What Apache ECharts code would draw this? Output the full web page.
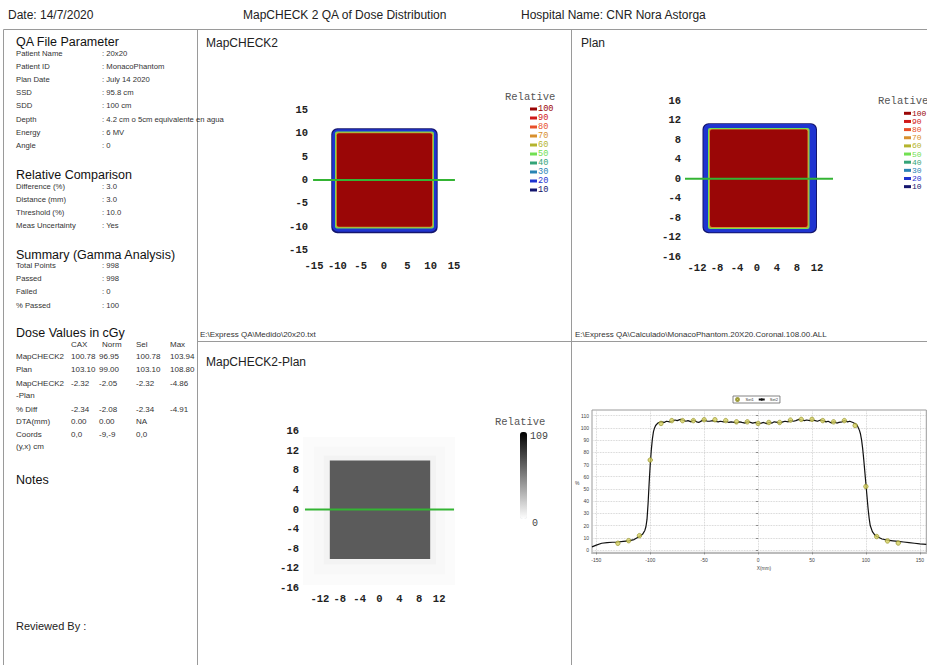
<!DOCTYPE html>
<html><head><meta charset="utf-8">
<script src="https://cdn.jsdelivr.net/npm/echarts@6/dist/echarts.min.js"></script>
<style>html,body{margin:0;padding:0;background:#fff}#c{width:927px;height:665px}</style>
</head><body><div id="c"></div>
<script>
// ---------------- data ----------------
const headerTexts = ['Date: 14/7/2020', 'MapCHECK 2 QA of Dose Distribution', 'Hospital Name: CNR Nora Astorga'];
const qaParams = [['Patient Name', ': 20x20'], ['Patient ID', ': MonacoPhantom'], ['Plan Date', ': July 14 2020'], ['SSD', ': 95.8 cm'], ['SDD', ': 100 cm'], ['Depth', ': 4.2 cm o 5cm equivalente en agua'], ['Energy', ': 6 MV'], ['Angle', ': 0']];
const relComparison = [['Difference (%)', ': 3.0'], ['Distance (mm)', ': 3.0'], ['Threshold (%)', ': 10.0'], ['Meas Uncertainty', ': Yes']];
const gammaSummary = [['Total Points', ': 998'], ['Passed', ': 998'], ['Failed', ': 0'], ['% Passed', ': 100']];
const doseHeader = ['CAX', 'Norm', 'Sel', 'Max'];
const doseRows = [
  ['MapCHECK2', '100.78', '96.95', '100.78', '103.94'],
  ['Plan', '103.10', '99.00', '103.10', '108.80'],
  ['MapCHECK2', '-2.32', '-2.05', '-2.32', '-4.86'],
  ['-Plan', '', '', '', ''],
  ['% Diff', '-2.34', '-2.08', '-2.34', '-4.91'],
  ['DTA(mm)', '0.00', '0.00', 'NA', ''],
  ['Coords', '0,0', '-9,-9', '0,0', ''],
  ['(y,x) cm', '', '', '', '']
];
const panelTitles = ['MapCHECK2', 'Plan', 'MapCHECK2-Plan'];
const filePaths = ['E:\\Express QA\\Medido\\20x20.txt', 'E:\\Express QA\\Calculado\\MonacoPhantom.20X20.Coronal.108.00.ALL'];

// dose levels (Relative legend)
const levels = [100, 90, 80, 70, 60, 50, 40, 30, 20, 10];
const levelColors = ['#9a0606', '#d01818', '#e8502a', '#d8902e', '#b4b42e', '#72e052', '#34a478', '#2a84b4', '#1f34d0', '#14166e'];

// map regions: [xmin, ymin, xmax, ymax, level]
const measuredRegions = [[-11.3, -11.4, 11.5, 11.1, 10], [-11.1, -11.1, 11.3, 10.9, 20], [-10.5, -10.4, 10.7, 10.4, 50], [-10.3, -10.2, 10.5, 10.2, 70], [-10.1, -10.0, 10.3, 10.0, 100]];
const planRegions = [[-10.9, -11.2, 12.0, 11.4, 10], [-10.7, -11.0, 11.8, 11.2, 20], [-9.8, -10.3, 10.5, 10.4, 50], [-9.6, -10.1, 10.3, 10.2, 70], [-9.4, -9.9, 10.1, 10.1, 100]];
const diffRegions = [[-15.4, -15.4, 15.2, 14.8, 1.5], [-13.2, -13.2, 13.2, 12.8, 3], [-11.2, -11.2, 11.4, 11.0, 5], [-10.0, -10.1, 10.2, 10.0, 70]];
const diffRange = [0, 109];

// profile line (y = 0 cm)
const measLine = [[-15.2, 0], [15.2, 0]];
const planLine = [[-14.4, 0], [15.2, 0]];
const diffLine = [[-15.0, 0], [15.0, 0]];

// profile data (Set2 line)
const set2X = [-154,-150,-145,-140,-135,-130,-125,-120,-115,-110,-107,-105,-104,-103,-102,-101,-100,-99,-98,-97,-96,-95,-93,-90,-87,-85,-82,-80,-77,-75,-72,-70,-67,-65,-62,-60,-57,-55,-52,-50,-47,-45,-42,-40,-37,-35,-32,-30,-27,-25,-22,-20,-17,-15,-12,-10,-7,-5,-2,0,3,5,8,10,13,15,18,20,23,25,28,30,33,35,38,40,43,45,48,50,53,55,58,60,63,65,68,70,73,75,78,80,83,85,88,90,92,94,95,96,97,98,99,100,101,102,103,104,106,108,110,115,120,125,130,135,140,145,150,156];
const set2Y = [2.5,4,5.5,6,6.3,6.5,7,7.5,8.5,11,13,16,19,25,38,55,70,82,91,97,100,102,104,105,104.5,105.5,105,105.5,106.5,106,107,106.5,105.5,106,105,106.5,105,104.5,106,106.5,105.5,105.5,106,105.5,105,105.5,105,105.5,104.5,105,104.5,104,105,104.5,104,105,104.5,104,104.5,103.5,104,104.5,103.5,104.5,104,105,104.5,104,105,105.5,105,106,105.5,106,107,106.5,106,106.5,106,106.5,106,105.5,106.5,106,105,105.5,104,105,104,104.5,105,106,105,105.5,104.5,103.5,102,98,95,90,83,74,64,54,44,34,26,20,15,12.5,11,9,8,7.5,7,6.5,6,5.5,5,4.5];
// Set1 points
const set1X = [-130,-120,-110,-100,-90,-80,-70,-60,-50,-40,-30,-20,-10,0,10,20,30,40,50,60,70,80,90,100,110,120,130];
const set1Y = [5.5,7.6,11.7,73.7,103.7,106,106,106,106.7,106.7,106,105,105,103.7,104.5,104.5,106.4,107,107,106,105,106,102,52,11,7.4,5.7];
const profileXTicks = [-150, -100, -50, 0, 50, 100, 150];
const profileYTicks = [0, 10, 20, 30, 40, 50, 60, 70, 80, 90, 100, 110];
const seriesNames = ['Set1', 'Set2'];

// ---------------- layout / graphic ----------------
const SANS = 'Liberation Sans', MONO = 'Liberation Mono';
const G = [];
function txt(x, y, s, size, opt) {
  G.push({type: 'text', x: x, y: y, silent: true, z: 10,
    style: Object.assign({text: s, fontSize: size, fontFamily: SANS, fill: '#222', verticalAlign: 'middle', align: 'left'}, opt || {})});
}
function ln(x1, y1, x2, y2) {
  G.push({type: 'line', silent: true, z: 5, shape: {x1: x1, y1: y1, x2: x2, y2: y2}, style: {stroke: '#9a9a9a', lineWidth: 1}});
}
// borders
ln(3.5, 29.5, 927, 29.5); ln(3.5, 29.5, 3.5, 665); ln(197.5, 29.5, 197.5, 665); ln(571.5, 29.5, 571.5, 665); ln(197.5, 341.5, 927, 341.5);
// header
txt(8, 15, headerTexts[0], 12); txt(243, 15, headerTexts[1], 12); txt(521, 15, headerTexts[2], 12);
// left column
function section(title, ty, rows, y0, step) {
  txt(16, ty, title, 12.5, {fill: '#111'});
  rows.forEach(function (r, i) { txt(16, y0 + i * step, r[0], 7.7, {fill: '#333'}); txt(102, y0 + i * step, r[1], 7.7, {fill: '#333'}); });
}
section('QA File Parameter', 42, qaParams, 53, 13.2);
section('Relative Comparison', 175, relComparison, 186, 13);
section('Summary (Gamma Analysis)', 255, gammaSummary, 265.5, 13.2);
txt(16, 333, 'Dose Values in cGy', 12.5, {fill: '#111'});
const colX = [71, 99, 136, 170];
doseHeader.forEach(function (h, i) { txt(colX[i] + (i === 1 ? 3 : 0), 344, h, 8, {fill: '#333'}); });
const rowY = [356, 369, 383, 395, 409, 421.5, 434, 446];
doseRows.forEach(function (r, i) {
  txt(16, rowY[i], r[0], 8, {fill: '#333'});
  for (let k = 1; k < 5; k++) if (r[k]) txt(colX[k - 1], rowY[i], r[k], 8, {fill: '#333'});
});
txt(16, 480, 'Notes', 12.5, {fill: '#111'});
txt(16, 626, 'Reviewed By :', 11, {fill: '#222'});
// panel titles & file paths
txt(206, 43, panelTitles[0], 12); txt(581, 43, panelTitles[1], 12); txt(206, 362, panelTitles[2], 12);
txt(200, 334, filePaths[0], 8, {fill: '#333'}); txt(575, 334, filePaths[1], 8, {fill: '#333'});
// Relative legends
function levelLegend(tx, ty, sx, y0, step, fs) {
  txt(tx, ty, 'Relative', 10.5, {fontFamily: MONO, fill: '#555'});
  levels.forEach(function (lv, i) {
    G.push({type: 'rect', silent: true, z: 10, shape: {x: sx, y: y0 + i * step - 1.5, width: 7, height: 3}, style: {fill: levelColors[i]}});
    txt(sx + 8, y0 + i * step, String(lv), fs, {fontFamily: MONO, fill: levelColors[i], lineHeight: step - 0.8});
  });
}
levelLegend(505, 97, 530, 109, 9, 8.6);
levelLegend(878, 101, 904, 113.3, 8.15, 8.0);
txt(495, 422, 'Relative', 10.5, {fontFamily: MONO, fill: '#555'});
txt(530, 436, String(diffRange[1]), 10, {fontFamily: MONO, fill: '#444'});
txt(532, 523, String(diffRange[0]), 10, {fontFamily: MONO, fill: '#444'});
// profile axis names
txt(575, 483, '%', 5, {fill: '#444'});
txt(764, 568, 'X(mm)', 4.8, {fill: '#444', align: 'center'});

// ---------------- chart ----------------
function colorOf(lv) { return levelColors[levels.indexOf(lv)]; }
function radiusOf(lv) { return lv <= 20 ? 6 : 2; }
function regionRender(useVisual) {
  return function (params, api) {
    const p0 = api.coord([api.value(0), api.value(3)]);
    const p1 = api.coord([api.value(2), api.value(1)]);
    const lv = api.value(4);
    return {type: 'rect', shape: {x: p0[0], y: p0[1], width: p1[0] - p0[0], height: p1[1] - p0[1], r: useVisual ? 0 : radiusOf(lv)},
      style: {fill: useVisual ? api.visual('color') : colorOf(lv)}};
  };
}
const mapLabel = {fontFamily: MONO, fontWeight: 'bold', fontSize: 10.5, color: '#222'};
function mapAxis(grid, min, max, interval, margin, hideEnds) {
  return {gridIndex: grid, type: 'value', min: min, max: max, interval: interval,
    axisLine: {show: false}, axisTick: {show: false}, splitLine: {show: false},
    axisLabel: Object.assign({margin: margin, showMinLabel: !hideEnds, showMaxLabel: !hideEnds}, mapLabel)};
}
function greenLine(idx, data) {
  return {type: 'line', xAxisIndex: idx, yAxisIndex: idx, data: data, symbol: 'none', silent: true, z: 5,
    lineStyle: {color: '#34b434', width: 2}};
}
const smallLabel = {fontFamily: SANS, fontSize: 5, color: '#444'};

const option = {
  animation: false,
  backgroundColor: '#fff',
  graphic: G,
  grid: [
    {left: 314, top: 110, width: 140, height: 140},
    {left: 677, top: 100.7, width: 160, height: 156},
    {left: 300, top: 431, width: 159, height: 157},
    {left: 592, top: 410, width: 347, height: 142.4, show: true, borderColor: '#9a9a9a', borderWidth: 1, backgroundColor: 'transparent'}
  ],
  xAxis: [
    mapAxis(0, -15, 15, 5, 10, false),
    mapAxis(1, -16, 16, 4, 6, true),
    mapAxis(2, -16, 16, 4, 5, true),
    {gridIndex: 3, type: 'value', min: -154, max: 156,
      axisLine: {show: true, onZero: false, lineStyle: {color: '#bbb', width: 2}},
      axisTick: {show: true, length: 2, customValues: profileXTicks, lineStyle: {color: '#888'}},
      axisLabel: Object.assign({customValues: profileXTicks, margin: 5}, smallLabel),
      splitLine: {show: true, lineStyle: {color: '#c8c8c8', type: 'dotted', width: 0.8}}}
  ],
  yAxis: [
    mapAxis(0, -15, 15, 5, 6, false),
    mapAxis(1, -16, 16, 4, -4, false),
    mapAxis(2, -16, 16, 4, 1, false),
    {gridIndex: 3, type: 'value', min: -2, max: 114.7,
      axisLine: {show: false},
      axisTick: {show: true, length: 2, customValues: profileYTicks, lineStyle: {color: '#888'}},
      axisLabel: Object.assign({customValues: profileYTicks, margin: 3}, smallLabel),
      splitLine: {show: true, lineStyle: {color: '#c8c8c8', type: 'dotted', width: 0.8}}}
  ],
  legend: {left: 733, top: 396, itemWidth: 6, itemHeight: 3, itemGap: 4, padding: [1, 2], borderColor: '#666', borderWidth: 0.8,
    textStyle: {fontSize: 4, color: '#333'}, data: seriesNames},
  visualMap: {type: 'continuous', seriesIndex: 2, dimension: 4, min: diffRange[0], max: diffRange[1], calculable: false,
    left: 505, top: 417, itemWidth: 7, itemHeight: 87, text: null, inRange: {color: ['#ffffff', '#000000']}},
  series: [
    {type: 'custom', xAxisIndex: 0, yAxisIndex: 0, renderItem: regionRender(false), data: measuredRegions, encode: {x: [0, 2], y: [1, 3]}, silent: true},
    {type: 'custom', xAxisIndex: 1, yAxisIndex: 1, renderItem: regionRender(false), data: planRegions, encode: {x: [0, 2], y: [1, 3]}, silent: true},
    {type: 'custom', xAxisIndex: 2, yAxisIndex: 2, renderItem: regionRender(true), data: diffRegions, encode: {x: [0, 2], y: [1, 3]}, silent: true},
    greenLine(0, measLine), greenLine(1, planLine), greenLine(2, diffLine),
    {name: seriesNames[0], type: 'scatter', xAxisIndex: 3, yAxisIndex: 3, symbol: 'circle', symbolSize: 4.5, z: 6,
      itemStyle: {color: '#d4d060', borderColor: '#8c8a1e', borderWidth: 0.8},
      data: set1X.map(function (x, i) { return [x, set1Y[i]]; })},
    {name: seriesNames[1], type: 'line', xAxisIndex: 3, yAxisIndex: 3, symbol: 'none', z: 5,
      lineStyle: {color: '#111', width: 1.2}, itemStyle: {color: '#111'},
      data: set2X.map(function (x, i) { return [x, set2Y[i]]; })}
  ]
};
const chart = echarts.init(document.getElementById('c'), null, {renderer: 'svg'});
chart.setOption(option);
</script>
</body></html>
